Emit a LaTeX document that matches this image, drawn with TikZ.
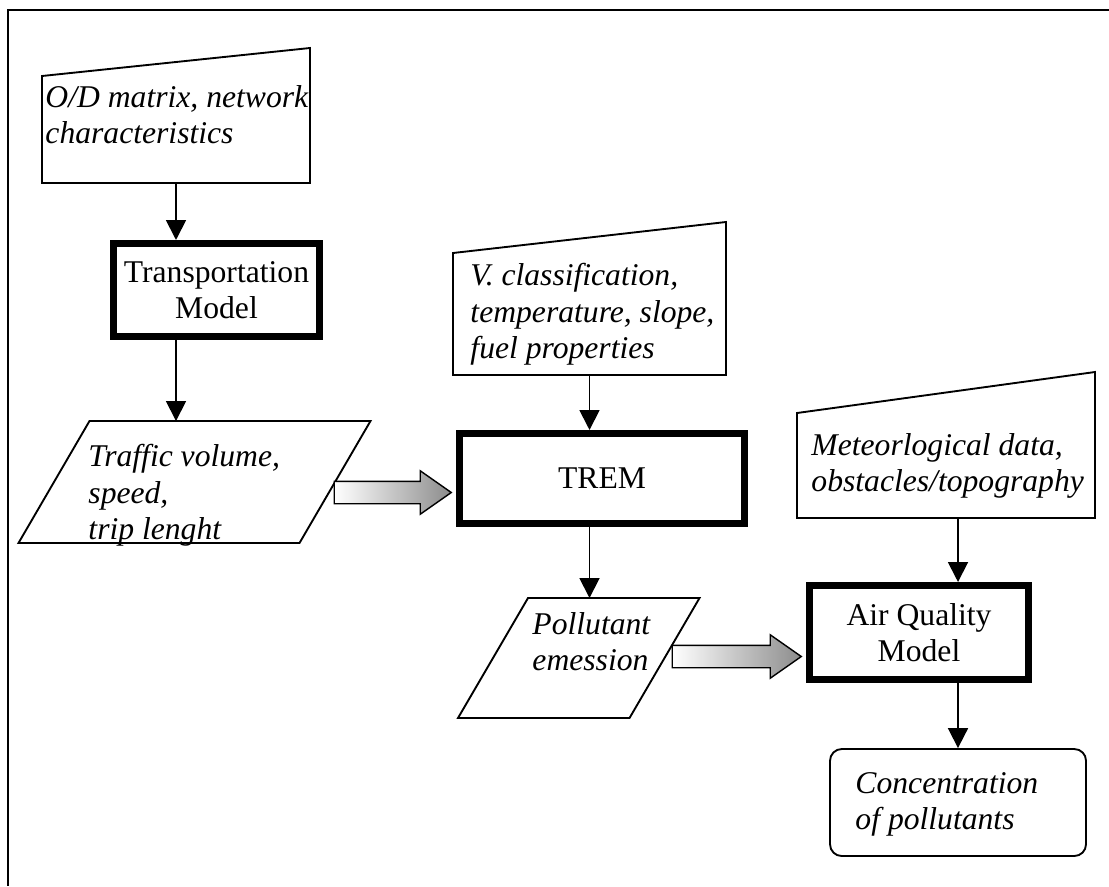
\documentclass[tikz,border=0pt]{standalone}
\usepackage{fontspec}
\setmainfont{Liberation Serif}
\usetikzlibrary{arrows.meta,positioning,calc,shapes.arrows}
\newdimen\pxu \pxu=0.015cm

\begin{document}
\begin{tikzpicture}[x=0.015cm,y=-0.015cm,>={Triangle[width=8.5pt,length=8.5pt]},
 every node/.style={font=\fontsize{13.5}{15.5}\selectfont},
 inbox/.style={inner sep=0pt,outer sep=0pt},
 outline/.style={line width=0.8pt},
 modelbox/.style={draw,line width=3pt,align=center,inner sep=0pt},
 intext/.style={font=\fontsize{13.5}{15.5}\selectfont\itshape,align=left,inner sep=0pt,anchor=north west},
 flow/.style={->,line width=0.8pt},
 bigflow/.style={single arrow,draw,line width=0.6pt,left color=white,right color=black!45,
  inner xsep=0pt,inner ysep=10.5\pxu,single arrow head extend=10.5\pxu,
  single arrow tip angle=70,anchor=tip}]
\useasboundingbox (0,0) rectangle (1109,886);
\draw[line width=1pt] (1109,10) -- (8,10) -- (8,886);

% inputs with a slanted top
\node[inbox,minimum width=268\pxu,minimum height=135\pxu] (od) at (176,115.5) {};
\draw[outline] (od.south west) -- (od.south east) -- (od.north east) -- ($(od.north west)+(0,28)$) -- cycle;
\node[intext] (odtext) at (45,85) {O/D matrix, network\\characteristics};

\node[inbox,minimum width=273\pxu,minimum height=153\pxu] (vbox) at (589.5,298.5) {};
\draw[outline] (vbox.south west) -- (vbox.south east) -- (vbox.north east) -- ($(vbox.north west)+(0,31)$) -- cycle;
\node[intext] (vtext) at (470,263) {V. classification,\\temperature, slope,\\fuel properties};

\node[inbox,minimum width=298\pxu,minimum height=146\pxu] (met) at (946,445) {};
\draw[outline] (met.south west) -- (met.south east) -- (met.north east) -- ($(met.north west)+(0,41)$) -- cycle;
\node[intext] (mettext) at (811,433) {Meteorlogical data,\\obstacles/topography};

% models
\node[modelbox,minimum width=206\pxu,minimum height=93\pxu] (tm) at (216.5,290) {Transportation\\Model};
\node[modelbox,minimum width=285\pxu,minimum height=90\pxu] (trem) at (602,478.5) {TREM};
\node[modelbox,minimum width=219\pxu,minimum height=94\pxu] (aq) at (919,632.5) {Air Quality\\Model};

% intermediate data
\node[inbox,minimum width=281\pxu,minimum height=122\pxu] (traffic) at (194.5,482) {};
\draw[outline] ($(traffic.south west)+(-35.5,0)$) -- ($(traffic.south east)+(-35.5,0)$)
 -- ($(traffic.north east)+(35.5,0)$) -- ($(traffic.north west)+(35.5,0)$) -- cycle;
\node[intext] (traffictext) at (88,444) {Traffic volume,\\speed,\\trip lenght};

\node[inbox,minimum width=171.5\pxu,minimum height=120\pxu] (pollut) at (578.75,658) {};
\draw[outline] ($(pollut.south west)+(-35,0)$) -- ($(pollut.south east)+(-35,0)$)
 -- ($(pollut.north east)+(35,0)$) -- ($(pollut.north west)+(35,0)$) -- cycle;
\node[intext] (polluttext) at (532,612) {Pollutant\\emession};

% result
\node[draw,line width=0.8pt,rounded corners=5pt,minimum width=256\pxu,minimum height=107\pxu] (conc) at (958,802.5) {};
\node[intext] (conctext) at (855,772) {Concentration\\of pollutants};

% connectors
\draw[flow] (od.south) -- (od.south |- tm.north);
\draw[flow] (od.south |- tm.south) -- (od.south |- traffic.north);
\draw[flow] (vbox.south) -- (vbox.south |- trem.north);
\draw[flow] (vbox.south |- trem.south) -- (vbox.south |- pollut.north);
\draw[flow] (conc.north |- met.south) -- (conc.north |- aq.north);
\draw[flow] (conc.north |- aq.south) -- (conc.north);
\node[bigflow,minimum height=117\pxu] (push1) at ($(trem.west)+(-3.5,14)$) {};
\node[bigflow,minimum height=129\pxu] (push2) at ($(aq.west)+(-3.5,24)$) {};
\end{tikzpicture}
\end{document}
